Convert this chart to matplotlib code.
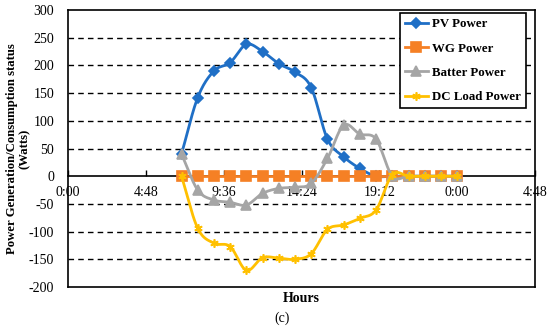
import numpy as np
import matplotlib
matplotlib.use("Agg")
import matplotlib.pyplot as plt

hours = [7, 8, 9, 10, 11, 12, 13, 14, 15, 16, 17, 18, 19, 20, 21, 22, 23, 24]
pv_power = [40, 142, 190, 205, 238, 225, 203, 188, 160, 67, 35, 14, 0, 0, 0, 0, 0, 0]
wg_power = [0, 0, 0, 0, 0, 0, 0, 0, 0, 0, 0, 0, 0, 0, 0, 0, 0, 0]
battery_power = [40, -25, -43, -47, -52, -31, -22, -20, -13, 32, 92, 76, 67, 0, 0, 0, 0, 0]
dc_load_power = [0, -94, -121, -127, -170, -147, -148, -150, -140, -96, -88, -76, -61, 3, 0, 0, 0, 0]

x_ticks = [0, 0.2, 0.4, 0.6, 0.8, 1.0, 1.2]
x_tick_labels = ["0:00", "4:48", "9:36", "14:24", "19:12", "0:00", "4:48"]
y_ticks = [-200, -150, -100, -50, 0, 50, 100, 150, 200, 250, 300]

series = [
    ("PV Power", pv_power, "#1f6fc6", "D", 5.5),
    ("WG Power", wg_power, "#f58025", "s", 7),
    ("Batter Power", battery_power, "#a5a5a5", "^", 6.5),
    ("DC Load Power", dc_load_power, "#ffc000", (6, 2, 0), 6),
]


def smooth(x, y, n=20):
    # Bezier smoothing through the data points (similar to Excel smoothed lines)
    x = np.asarray(x, float)
    y = np.asarray(y, float)
    px = np.concatenate([[2 * x[0] - x[1]], x, [2 * x[-1] - x[-2]]])
    py = np.concatenate([[2 * y[0] - y[1]], y, [2 * y[-1] - y[-2]]])
    xs, ys = [], []
    t = np.linspace(0, 1, n, endpoint=False)
    for i in range(1, len(px) - 2):
        p0, p1, p2, p3 = (np.array([px[j], py[j]]) for j in range(i - 1, i + 3))
        tension = 1 / 6.0
        c1 = p1 + (p2 - p0) * tension
        c2 = p2 - (p3 - p1) * tension
        tt = t[:, None]
        pts = ((1 - tt) ** 3) * p1 + 3 * ((1 - tt) ** 2) * tt * c1 + 3 * (1 - tt) * tt ** 2 * c2 + tt ** 3 * p2
        xs.extend(pts[:, 0])
        ys.extend(pts[:, 1])
    xs.append(x[-1])
    ys.append(y[-1])
    return np.array(xs), np.array(ys)


plt.rcParams["font.family"] = ["Liberation Serif", "DejaVu Serif"]

fig = plt.figure(figsize=(5.5, 3.28), dpi=100)
ax = fig.add_axes([68 / 550, 1 - 287 / 328, (535 - 68) / 550, (287 - 10) / 328])

xd = [h / 24.0 for h in hours]
handles = []
for i, (name, vals, color, marker, ms) in enumerate(series):
    sx, sy = smooth(xd, vals)
    ax.plot(sx, sy, color=color, lw=2, zorder=3 + i, solid_capstyle="round")
    ax.plot(xd, vals, linestyle="none", marker=marker, color=color, markersize=ms,
            markeredgecolor=color, markeredgewidth=1.2, zorder=3 + i)
    h, = ax.plot([], [], color=color, lw=2, marker=marker, markersize=ms,
                 markeredgecolor=color, markeredgewidth=1.2)
    h.set_label(name)
    handles.append(h)

ax.set_xlim(0, 1.2)
ax.set_ylim(-200, 300)
ax.set_yticks(y_ticks)
ax.set_yticklabels([str(v) for v in y_ticks])
ax.set_xticks(x_ticks)
ax.set_xticklabels(x_tick_labels)

for v in y_ticks:
    if v not in (0, 300, -200):
        ax.axhline(v, color="black", lw=1, ls=(0, (4, 3)), zorder=1)

ax.spines["bottom"].set_position(("data", 0))
ax.spines["bottom"].set_linewidth(1.2)
for s in ("top", "left", "right"):
    ax.spines[s].set_linewidth(1.2)
ax.axhline(-200, color="black", lw=1.2, clip_on=False, zorder=2)

ax.tick_params(axis="y", length=0, labelsize=10, pad=10)
ax.tick_params(axis="x", direction="in", length=4, width=1, labelsize=10, pad=7)

ax.set_ylabel("Power Generation/Consumption status\n(Watts)", fontsize=9.2,
              fontweight="bold", linespacing=1.15)
ax.yaxis.set_label_coords(31 / 550, 1 - 148.5 / 328, transform=fig.transFigure)
fig.text(301 / 550, 1 - 298 / 328, "Hours", ha="center", va="center",
         fontsize=10, fontweight="bold")
fig.text(282 / 550, 1 - 318 / 328, "(c)", ha="center", va="center", fontsize=10)

leg = ax.legend(handles=handles, loc="upper right", bbox_to_anchor=(526 / 550, 1 - 13 / 328),
                bbox_transform=fig.transFigure, frameon=True, fancybox=False,
                edgecolor="black", framealpha=1, handlelength=1.8, handletextpad=0.3,
                borderpad=0.4, labelspacing=0.95, borderaxespad=0,
                prop={"weight": "bold", "size": 9.3})
leg.get_frame().set_linewidth(1.2)
leg.set_zorder(20)

fig.savefig("out.png", dpi=100)
